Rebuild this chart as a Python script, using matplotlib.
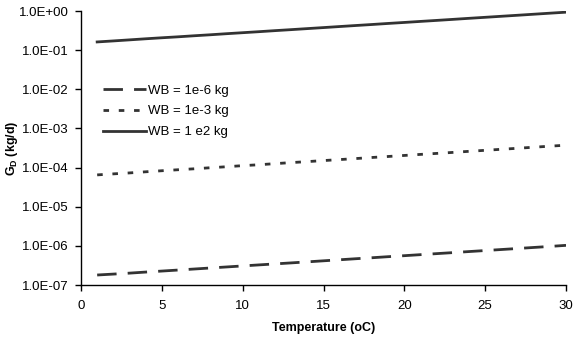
import matplotlib
matplotlib.use("Agg")
import matplotlib.pyplot as plt
from matplotlib.ticker import FixedLocator, FixedFormatter

plt.rcParams['font.family'] = ['Liberation Sans', 'DejaVu Sans']
plt.rcParams['mathtext.fontset'] = 'custom'
plt.rcParams['mathtext.rm'] = 'Liberation Sans'
plt.rcParams['mathtext.bf'] = 'Liberation Sans:bold'

temperature = list(range(1, 31))
gd_wb_1e2 = [0.162, 0.172, 0.183, 0.195, 0.207, 0.219, 0.233, 0.247, 0.263, 0.279,
             0.296, 0.315, 0.334, 0.355, 0.377, 0.401, 0.426, 0.452, 0.481, 0.510,
             0.542, 0.575, 0.611, 0.650, 0.690, 0.733, 0.778, 0.827, 0.879, 0.933]
gd_wb_1e3 = [6.5e-5, 6.9e-5, 7.3e-5, 7.8e-5, 8.3e-5, 8.8e-5, 9.3e-5, 9.9e-5, 1.05e-4, 1.12e-4,
             1.18e-4, 1.26e-4, 1.34e-4, 1.42e-4, 1.51e-4, 1.60e-4, 1.70e-4, 1.81e-4, 1.92e-4, 2.04e-4,
             2.17e-4, 2.30e-4, 2.44e-4, 2.60e-4, 2.76e-4, 2.93e-4, 3.11e-4, 3.31e-4, 3.52e-4, 3.73e-4]
gd_wb_1e6 = [1.80e-7, 1.90e-7, 2.01e-7, 2.14e-7, 2.27e-7, 2.41e-7, 2.56e-7, 2.72e-7, 2.89e-7, 3.07e-7,
             3.26e-7, 3.46e-7, 3.67e-7, 3.90e-7, 4.15e-7, 4.41e-7, 4.69e-7, 4.97e-7, 5.29e-7, 5.61e-7,
             5.96e-7, 6.33e-7, 6.72e-7, 7.15e-7, 7.59e-7, 8.06e-7, 8.56e-7, 9.10e-7, 9.67e-7, 1.03e-6]
series_labels = ["WB = 1e-6 kg", "WB = 1e-3 kg", "WB = 1 e2 kg"]
y_ticks = [1e-7, 1e-6, 1e-5, 1e-4, 1e-3, 1e-2, 1e-1, 1e0]
y_tick_labels = ["1.0E-07", "1.0E-06", "1.0E-05", "1.0E-04", "1.0E-03", "1.0E-02", "1.0E-01", "1.0E+00"]
x_ticks = [0, 5, 10, 15, 20, 25, 30]

fig = plt.figure(figsize=(5.77, 3.38), dpi=100)
ax = fig.add_axes([81/577, 1-285/338, (566-81)/577, (285-11)/338])

col = '#333333'
ax.plot(temperature, gd_wb_1e6, color=col, lw=2, linestyle=(0, (7, 4)), label=series_labels[0])
ax.plot(temperature, gd_wb_1e3, color=col, lw=2, linestyle=(0, (2, 3.5)), label=series_labels[1])
ax.plot(temperature, gd_wb_1e2, color=col, lw=2, linestyle='-', label=series_labels[2])

ax.set_yscale('log')
ax.set_ylim(1e-7, 1e0)
ax.set_xlim(0, 30)
ax.yaxis.set_major_locator(FixedLocator(y_ticks))
ax.yaxis.set_major_formatter(FixedFormatter(y_tick_labels))
ax.yaxis.set_minor_locator(FixedLocator([]))
ax.set_xticks(x_ticks)
ax.tick_params(axis='both', labelsize=9.5, length=4, width=1, direction='out', colors='black')
ax.tick_params(axis='y', pad=5)
ax.tick_params(axis='x', pad=7)
for s in ['top', 'right']:
    ax.spines[s].set_visible(False)
for s in ['left', 'bottom']:
    ax.spines[s].set_linewidth(1)

ax.set_xlabel('Temperature (oC)', fontsize=9, fontweight='bold', labelpad=7)
ax.set_ylabel(r'G$_\mathbf{D}$ (kg/d)', fontsize=9, fontweight='bold', va='center')
ax.yaxis.set_label_coords(12/577, 0.5, transform=fig.transFigure)
ax.yaxis.label.set_y(1-148/338)

leg = ax.legend(loc='upper left', bbox_to_anchor=(98/577, 1-79/338), bbox_transform=fig.transFigure,
                frameon=False, fontsize=9.5, handlelength=3.2, handletextpad=0.2, labelspacing=0.65,
                borderaxespad=0)

fig.savefig('out.png', dpi=100)
